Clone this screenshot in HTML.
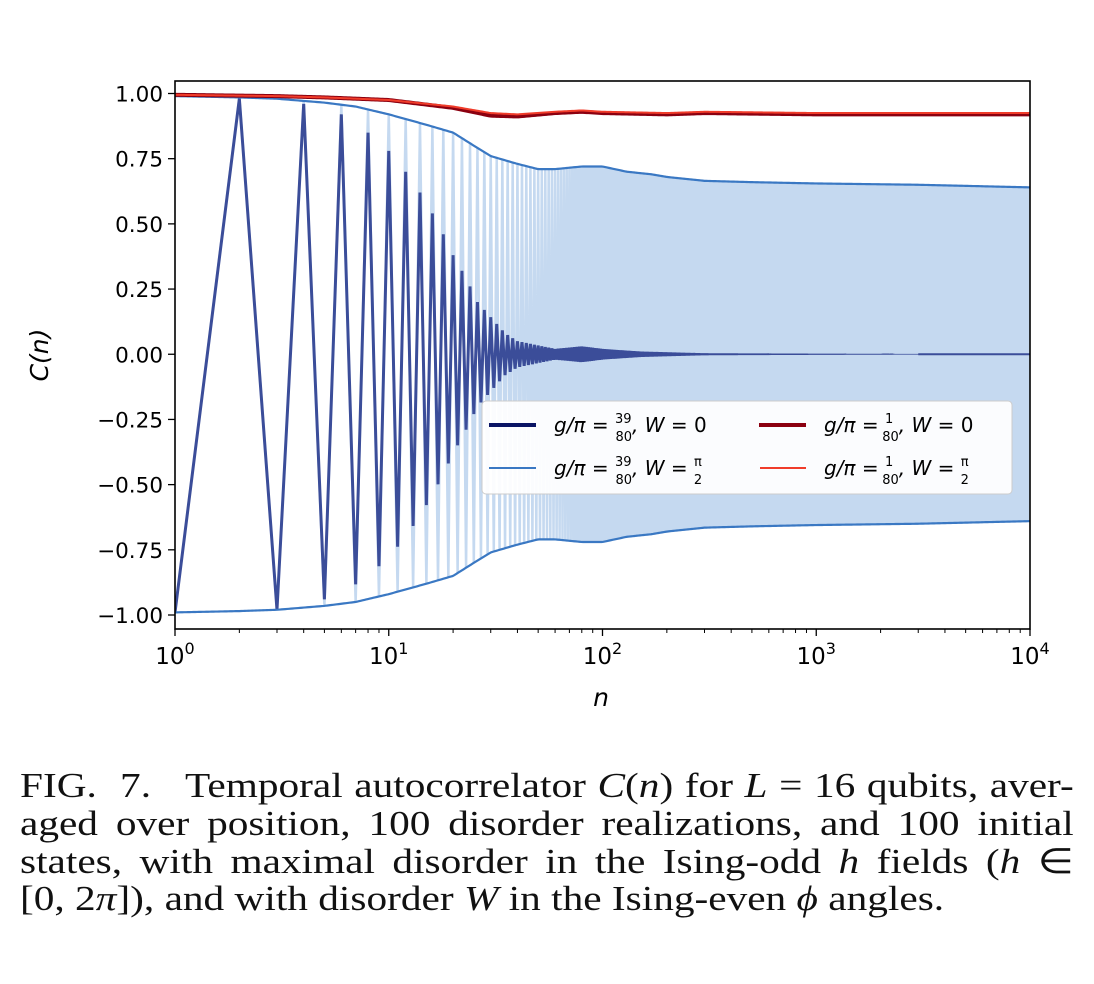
<!DOCTYPE html>
<html><head><meta charset="utf-8"><style>
body{margin:0;background:#fff;width:1094px;height:984px;overflow:hidden;position:relative;font-family:"Liberation Sans","DejaVu Sans",sans-serif}
.cap{position:absolute;left:20px;width:893px;font-family:"Liberation Serif",serif;font-size:35px;line-height:37.5px;text-align:justify;text-align-last:justify;color:#111;transform:scaleX(1.18);transform-origin:0 0;white-space:nowrap}
.cap i{font-style:italic}
</style></head><body>
<svg width="1094" height="740" style="position:absolute;left:0;top:0" font-family="DejaVu Sans, sans-serif">
<defs><clipPath id="clip"><rect x="175" y="81" width="855" height="548"/></clipPath></defs>
<g id="plot" clip-path="url(#clip)"></g>
<rect x="175" y="81" width="855" height="548" fill="none" stroke="#000" stroke-width="1.6"/>
<g id="axes"></g>
<text x="601" y="706" font-size="25" font-style="italic" text-anchor="middle">n</text>
<text transform="translate(48,355) rotate(-90)" font-size="25" text-anchor="middle" font-style="italic">C(n)</text>
<g>
<rect x="482" y="401" width="530" height="93" rx="4" fill="#fff" fill-opacity="0.92" stroke="#ccc"/>
<line x1="489" y1="425" x2="536" y2="425" stroke="#0a1464" stroke-width="4"/>
<line x1="489" y1="468" x2="536" y2="468" stroke="#3a78c3" stroke-width="2"/>
<line x1="759" y1="425" x2="806" y2="425" stroke="#8b0010" stroke-width="4"/>
<line x1="760" y1="468" x2="806" y2="468" stroke="#f03c2a" stroke-width="2"/>
<g font-size="20" font-style="italic">
<text x="554" y="432">g/π = <tspan font-size="13" font-style="normal" dy="-9">39</tspan><tspan font-size="13" font-style="normal" dx="-16" dy="18">80</tspan><tspan dy="-9">, W = </tspan><tspan font-style="normal">0</tspan></text>
<text x="554" y="475">g/π = <tspan font-size="13" font-style="normal" dy="-9">39</tspan><tspan font-size="13" font-style="normal" dx="-16" dy="18">80</tspan><tspan dy="-9">, W = </tspan><tspan font-size="13" dy="-9" font-style="normal">π</tspan><tspan font-size="13" font-style="normal" dx="-8" dy="18">2</tspan></text>
<text x="824" y="432">g/π = <tspan font-size="13" font-style="normal" dy="-9">1</tspan><tspan font-size="13" font-style="normal" dx="-11" dy="18">80</tspan><tspan dy="-9">, W = </tspan><tspan font-style="normal">0</tspan></text>
<text x="824" y="475">g/π = <tspan font-size="13" font-style="normal" dy="-9">1</tspan><tspan font-size="13" font-style="normal" dx="-11" dy="18">80</tspan><tspan dy="-9">, W = </tspan><tspan font-size="13" dy="-9" font-style="normal">π</tspan><tspan font-size="13" font-style="normal" dx="-8" dy="18">2</tspan></text>
</g></g>
</svg>
<div class="cap" style="top:767px">FIG.&nbsp; 7.&nbsp;&nbsp; Temporal autocorrelator <i>C</i>(<i>n</i>) for <i>L</i> = 16 qubits, aver-</div>
<div class="cap" style="top:805px">aged over position, 100 disorder realizations, and 100 initial</div>
<div class="cap" style="top:843px">states, with maximal disorder in the Ising-odd <i>h</i> fields (<i>h</i> ∈</div>
<div class="cap" style="top:880px;text-align-last:left">[0, 2<i>π</i>]), and with disorder <i>W</i> in the Ising-even <i>ϕ</i> angles.</div>
<script>
const envN=[1,2,3,5,7,10,15,20,25,30,40,50,60,80,100,130,170,200,300,500,1000,3000,10000];
const envBlue=[0.99,0.985,0.98,0.965,0.95,0.92,0.88,0.85,0.80,0.76,0.73,0.71,0.71,0.72,0.72,0.70,0.69,0.68,0.665,0.66,0.655,0.65,0.64];
const darkN=[1,2,3,4,5,6,8,10,12,14,16,18,20,22,24,26,28,35,40,60,80,100,150,300,10000];
const darkEnv=[0.99,0.98,0.98,0.96,0.94,0.92,0.85,0.78,0.70,0.62,0.54,0.46,0.38,0.32,0.26,0.20,0.17,0.08,0.05,0.02,0.03,0.02,0.01,0.003,0];
const redN=[1,3,5,10,20,30,40,60,80,100,200,300,1000,10000];
const redLight=[0.995,0.99,0.985,0.975,0.95,0.925,0.92,0.93,0.935,0.93,0.925,0.93,0.925,0.925];
const redDark=[0.995,0.99,0.985,0.975,0.945,0.915,0.912,0.925,0.93,0.925,0.92,0.925,0.92,0.92];
const xTicks=[0,1,2,3,4];
const yTicks=[1,0.75,0.5,0.25,0,-0.25,-0.5,-0.75,-1];
const yLabels=["1.00","0.75","0.50","0.25","0.00","−0.25","−0.50","−0.75","−1.00"];
const X=n=>175+213.75*Math.log10(n);
const Y=v=>354.25-260.75*v;
function interp(ns,vs,n){const l=Math.log10(n);for(let i=0;i<ns.length-1;i++){const a=Math.log10(ns[i]),b=Math.log10(ns[i+1]);if(l<=b){return vs[i]+(vs[i+1]-vs[i])*(l-a)/(b-a);}}return vs[vs.length-1];}
const NS='http://www.w3.org/2000/svg';
const plot=document.getElementById('plot'),axes=document.getElementById('axes');
function mk(tag,attrs,parent){const e=document.createElementNS(NS,tag);for(const k in attrs)e.setAttribute(k,attrs[k]);parent.appendChild(e);return e;}
let pts=[];for(let n=1;n<=10000;n++){pts.push(X(n).toFixed(2)+','+Y((n%2?-1:1)*interp(envN,envBlue,n)).toFixed(2));}
let e=mk('polyline',{points:pts.join(' '),fill:'none',stroke:'#c5d9f0','stroke-width':2.5},plot);


pts=[];for(let n=1;n<=3000;n++){pts.push(X(n).toFixed(2)+','+Y((n%2?-1:1)*interp(darkN,darkEnv,n)).toFixed(2));}
e=mk('polyline',{points:pts.join(' '),fill:'none',stroke:'#3b4d99','stroke-width':3,'stroke-linejoin':'miter'},plot);


e=mk('line',{x1:X(3000),y1:Y(0),x2:1030,y2:Y(0),stroke:'#3b4d99','stroke-width':2},plot);


for(const s of [1,-1]){pts=[];for(let n=1;n<=10000;n*=1.02){pts.push(X(n).toFixed(2)+','+Y(s*interp(envN,envBlue,n)).toFixed(2));}
e=mk('polyline',{points:pts.join(' '),fill:'none',stroke:'#3a78c3','stroke-width':2.2},plot);

}
[[redDark,'#8b0010',4,'series-w0-g1'],[redLight,'#f03c2a',2,'series-w-pi2-g1']].forEach(([arr,c,w,nm])=>{pts=[];for(let n=1;n<=10000;n*=1.02){pts.push(X(n).toFixed(2)+','+Y(interp(redN,arr,n)).toFixed(2));}
const r=mk('polyline',{points:pts.join(' '),fill:'none',stroke:c,'stroke-width':w},plot);

});
xTicks.forEach(p=>{const x=X(Math.pow(10,p));mk('line',{x1:x,y1:629,x2:x,y2:636,stroke:'#000','stroke-width':1.3},axes);
const t=mk('text',{x:x,y:664,'font-size':23,'text-anchor':'middle'},axes);t.innerHTML='10<tspan font-size="16" dy="-10">'+p+'</tspan>';


if(p<4)for(let m=2;m<10;m++){const xm=X(m*Math.pow(10,p));mk('line',{x1:xm,y1:629,x2:xm,y2:633,stroke:'#000','stroke-width':1},axes);}});
yTicks.forEach((v,i)=>{const y=Y(v);mk('line',{x1:168,y1:y,x2:175,y2:y,stroke:'#000','stroke-width':1.3},axes);
const t=mk('text',{x:163,y:y+8,'font-size':21.5,'text-anchor':'end'},axes);t.textContent=yLabels[i];

});
</script>
</body></html>
